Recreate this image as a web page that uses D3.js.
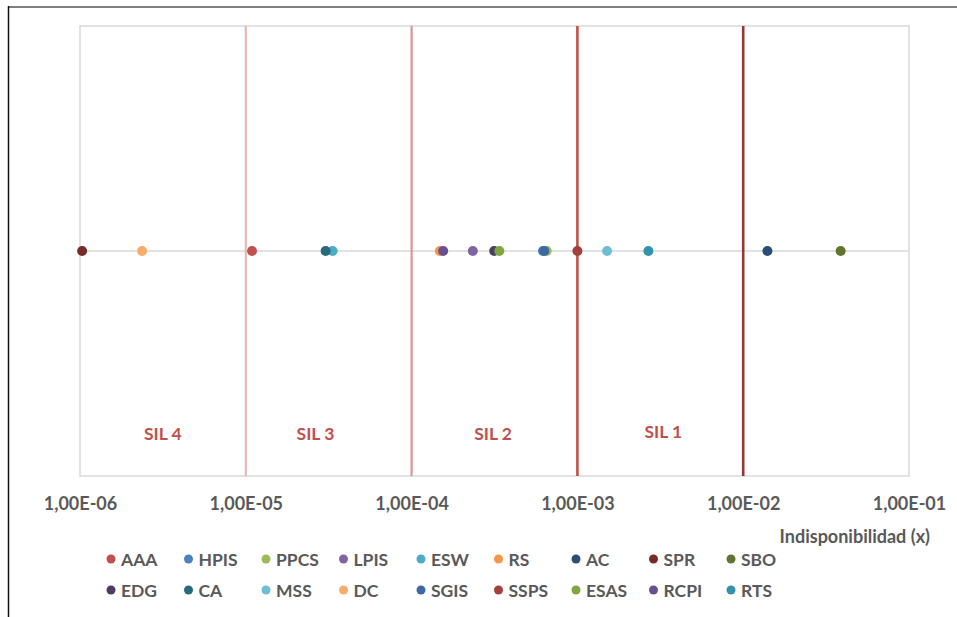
<!DOCTYPE html>
<html>
<head>
<meta charset="utf-8">
<script src="https://cdn.jsdelivr.net/npm/d3@7"></script>
<style>
  html, body { margin: 0; padding: 0; background: #fff; }
  svg { display: block; }
  text { font-family: Lato, "Noto Sans", sans-serif; font-weight: bold; }
</style>
</head>
<body>
<svg id="chart" width="957" height="617"></svg>
<script>
// ---- data ----
const seriesNames = ["AAA","HPIS","PPCS","LPIS","ESW","RS","AC","SPR","SBO",
                     "EDG","CA","MSS","DC","SGIS","SSPS","ESAS","RCPI","RTS"];
const seriesColors = ["#C0504D","#4F81BD","#9BBB59","#8064A2","#4BACC6","#F79646","#2C4D75","#772C2A","#5F7530",
                      "#4D3B62","#276A7C","#6FBDD1","#F9AB6B","#3C69A2","#A33F3C","#7FA63F","#67508F","#3393AD"];
const xValues = [1.09e-5, 6.2e-4, 6.53e-4, 2.34e-4, 3.34e-5, 1.48e-4, 1.40e-2, 1.03e-6, 3.87e-2,
                 3.15e-4, 3.03e-5, 1.51e-3, 2.37e-6, 6.31e-4, 1.0e-3, 3.38e-4, 1.55e-4, 2.68e-3];
const yValues = [1,1,1,1,1,1,1,1,1,1,1,1,1,1,1,1,1,1];
const xTicks = [1e-6, 1e-5, 1e-4, 1e-3, 1e-2, 1e-1];
const xTickLabels = ["1,00E-06","1,00E-05","1,00E-04","1,00E-03","1,00E-02","1,00E-01"];
const silLimits = [1e-5, 1e-4, 1e-3, 1e-2];
const silLimitColors = ["#E6B9B8","#DA9694","#C0504D","#963634"];
const silLabels = ["SIL 4","SIL 3","SIL 2","SIL 1"];
const silLabelX = [3.16e-6, 2.63e-5, 3.1e-4, 3.3e-3];
const silLabelY = [0.187, 0.187, 0.187, 0.197];
const xTitle = "Indisponibilidad (x)";

// ---- layout ----
const svg = d3.select("#chart");
const plot = {left: 80, right: 909, top: 26, bottom: 476};
const x = d3.scaleLog().domain([1e-6, 1e-1]).range([plot.left, plot.right]);
const y = d3.scaleLinear().domain([0, 2]).range([plot.bottom, plot.top]);

// outer frame lines
svg.append("line").attr("x1", 8).attr("x2", 957).attr("y1", 7).attr("y2", 7)
  .attr("stroke", "#808080").attr("stroke-width", 2);
svg.append("line").attr("x1", 8.5).attr("x2", 8.5).attr("y1", 6).attr("y2", 617)
  .attr("stroke", "#111").attr("stroke-width", 1.5);

// plot area frame
svg.append("rect").attr("x", plot.left).attr("y", plot.top)
  .attr("width", plot.right - plot.left).attr("height", plot.bottom - plot.top)
  .attr("fill", "none").attr("stroke", "#D9D9D9").attr("stroke-width", 1.5);

// horizontal gridline
svg.append("line").attr("x1", plot.left).attr("x2", plot.right)
  .attr("y1", y(1)).attr("y2", y(1)).attr("stroke", "#D9D9D9").attr("stroke-width", 1.3);

// SIL limit lines
svg.selectAll("line.sil").data(silLimits).enter().append("line")
  .attr("class", "sil")
  .attr("x1", d => x(d)).attr("x2", d => x(d))
  .attr("y1", plot.top).attr("y2", plot.bottom)
  .attr("stroke", (d, i) => silLimitColors[i])
  .attr("stroke-width", (d, i) => i < 2 ? 2.2 : 2.6);

// SIL labels
svg.selectAll("text.sillab").data(silLabels).enter().append("text")
  .attr("class", "sillab")
  .attr("x", (d, i) => x(silLabelX[i]))
  .attr("y", (d, i) => y(silLabelY[i]))
  .attr("text-anchor", "middle").attr("dominant-baseline", "central")
  .attr("fill", "#C0504D").attr("font-size", 17.5)
  .text(d => d);

// axis
const axis = d3.axisBottom(x).tickValues(xTicks)
  .tickFormat((d, i) => xTickLabels[i]).tickSize(0).tickPadding(0);
const ax = svg.append("g").attr("transform", `translate(0,${plot.bottom})`).call(axis);
ax.select(".domain").remove();
ax.selectAll("text").attr("dy", null).attr("y", 27).attr("dominant-baseline", "central")
  .attr("fill", "#595959").attr("font-size", 18)
  .style("font-family", "Lato, 'Noto Sans', sans-serif").style("font-weight", "bold");

svg.append("text").attr("x", 930).attr("y", 536).attr("text-anchor", "end")
  .attr("dominant-baseline", "central").attr("fill", "#595959").attr("font-size", 18)
  .text(xTitle);

// points
svg.selectAll("circle.pt").data(seriesNames).enter().append("circle")
  .attr("class", "pt")
  .attr("cx", (d, i) => x(xValues[i]))
  .attr("cy", (d, i) => y(yValues[i]))
  .attr("r", 5)
  .attr("fill", (d, i) => seriesColors[i]);

// legend
const legX0 = 111, legStep = 77.5, legRows = [559, 590], perRow = 9;
const leg = svg.selectAll("g.leg").data(seriesNames).enter().append("g")
  .attr("class", "leg")
  .attr("transform", (d, i) => `translate(${legX0 + (i % perRow) * legStep},${legRows[Math.floor(i / perRow)]})`);
leg.append("circle").attr("r", 4.5).attr("fill", (d, i) => seriesColors[i]);
leg.append("text").attr("x", 10).attr("dominant-baseline", "central")
  .attr("fill", "#595959").attr("font-size", 17.5).text(d => d);
</script>
</body>
</html>
